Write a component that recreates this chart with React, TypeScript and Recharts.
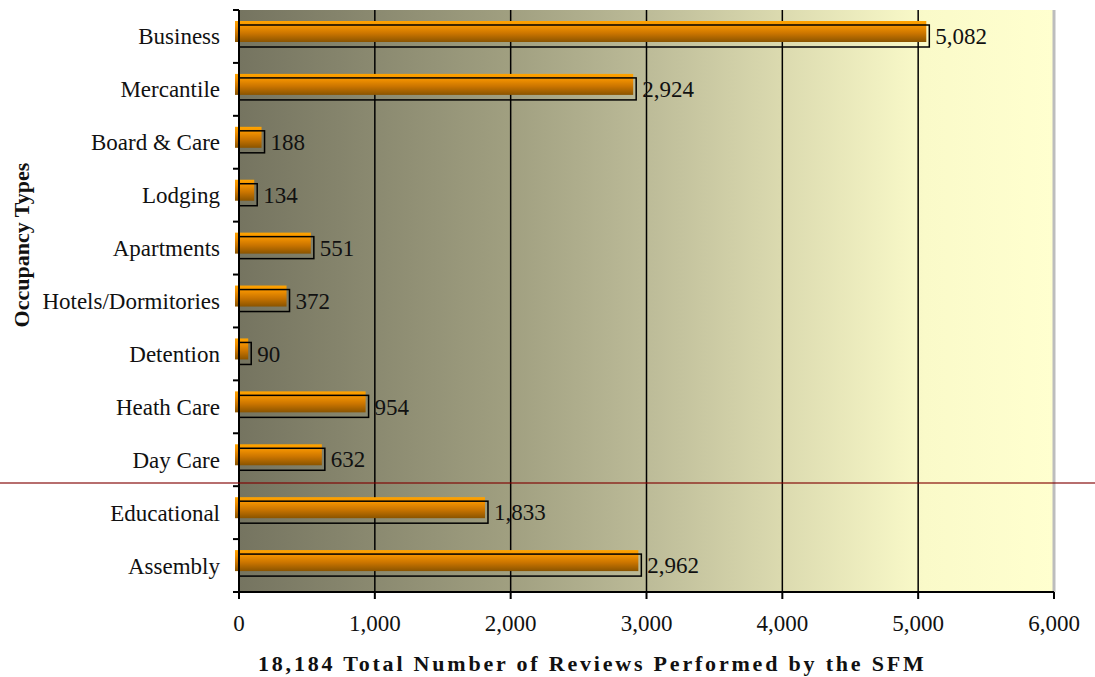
import React from "react";
import {
  Bar,
  BarChart,
  CartesianGrid,
  LabelList,
  ReferenceLine,
  XAxis,
  YAxis,
} from "recharts";

const categories = [
  "Business",
  "Mercantile",
  "Board & Care",
  "Lodging",
  "Apartments",
  "Hotels/Dormitories",
  "Detention",
  "Heath Care",
  "Day Care",
  "Educational",
  "Assembly",
];

const reviews = [5082, 2924, 188, 134, 551, 372, 90, 954, 632, 1833, 2962];

const xTicks = [0, 1000, 2000, 3000, 4000, 5000, 6000];

const data = categories.map((category, i) => ({ category, reviews: reviews[i] }));

const FONT = '"Liberation Serif", "Times New Roman", serif';
const WIDTH = 1095;
const HEIGHT = 677;
const AXIS_X = 239;
const PLOT_TOP = 10;
const PLOT_BOTTOM = 592;
const HALF_BAND = (PLOT_BOTTOM - PLOT_TOP) / categories.length / 2;

function CategoryTick(props: any) {
  const { x, y, payload, index } = props;
  const last = index === categories.length - 1;
  return (
    <g>
      <line x1={AXIS_X - 6} x2={AXIS_X} y1={y - HALF_BAND} y2={y - HALF_BAND} stroke="#000" strokeWidth={2} />
      {last && (
        <line x1={AXIS_X - 6} x2={AXIS_X} y1={y + HALF_BAND} y2={y + HALF_BAND} stroke="#000" strokeWidth={2} />
      )}
      <text x={x} y={y} dy={8} textAnchor="end" fill="#111" fontSize={23} fontFamily={FONT}>
        {payload.value}
      </text>
    </g>
  );
}

// orange bar with a black outline box offset down-right (Excel 3D look)
function BarShape(props: any) {
  const { x, y, width, height } = props;
  return (
    <g>
      <rect x={x - 4} y={y - 4} width={width + 1} height={21} fill="url(#barGrad)" />
      <rect x={x} y={y} width={width} height={height} fill="none" stroke="#000" strokeWidth={1.5} />
    </g>
  );
}

export default function App() {
  return (
    <div style={{ position: "relative", width: WIDTH, height: HEIGHT, background: "#fff" }}>
      <style>{`body{margin:0}`}</style>
      <BarChart
        width={WIDTH}
        height={HEIGHT}
        data={data}
        layout="vertical"
        margin={{ top: PLOT_TOP, right: 41, bottom: 0, left: 0 }}
      >
        <defs>
          <linearGradient id="bgGrad" x1="0" y1="0" x2="1" y2="0">
            <stop offset="0%" stopColor="#757460" />
            <stop offset="33%" stopColor="#a09f80" />
            <stop offset="50%" stopColor="#bcbb98" />
            <stop offset="67%" stopColor="#dcdbb0" />
            <stop offset="84%" stopColor="#fafac9" />
            <stop offset="100%" stopColor="#ffffcf" />
          </linearGradient>
          <linearGradient id="barGrad" x1="0" y1="0" x2="0" y2="1">
            <stop offset="0%" stopColor="#ffa400" />
            <stop offset="25%" stopColor="#f39200" />
            <stop offset="60%" stopColor="#c97400" />
            <stop offset="100%" stopColor="#8a5400" />
          </linearGradient>
        </defs>
        <CartesianGrid horizontal={false} stroke="#000" strokeWidth={1.5} fill="url(#bgGrad)" fillOpacity={1} />
        <ReferenceLine x={6000} stroke="#bdbdbd" strokeWidth={3} />
        <XAxis
          type="number"
          domain={[0, 6000]}
          ticks={xTicks}
          height={HEIGHT - PLOT_BOTTOM}
          axisLine={{ stroke: "#000", strokeWidth: 2 }}
          tickLine={{ stroke: "#000", strokeWidth: 2 }}
          tickSize={7}
          tickMargin={16}
          tickFormatter={(v: number) => v.toLocaleString("en-US")}
          tick={{ fill: "#111", fontSize: 23, fontFamily: FONT }}
          label={{
            content: () => (
              <text
                x={258}
                y={671}
                fill="#111"
                fontSize={22}
                fontWeight="bold"
                letterSpacing={2.8}
                fontFamily={FONT}
              >
                18,184 Total Number of Reviews Performed by the SFM
              </text>
            ),
          }}
        />
        <YAxis
          type="category"
          dataKey="category"
          width={AXIS_X}
          axisLine={{ stroke: "#000", strokeWidth: 2 }}
          tickLine={false}
          tickSize={6}
          tickMargin={13}
          tick={<CategoryTick />}
          interval={0}
          label={{
            content: () => (
              <text
                x={29}
                y={245}
                transform="rotate(-90, 29, 245)"
                textAnchor="middle"
                fill="#111"
                fontSize={22}
                fontWeight="bold"
                fontFamily={FONT}
              >
                Occupancy Types
              </text>
            ),
          }}
        />
        <Bar dataKey="reviews" barSize={22} shape={<BarShape />} isAnimationActive={false}>
          <LabelList
            dataKey="reviews"
            position="right"
            offset={6}
            formatter={(v: any) => Number(v).toLocaleString("en-US")}
            fill="#111"
            fontSize={23}
            fontFamily={FONT}
          />
        </Bar>
      </BarChart>
      <div
        style={{
          position: "absolute",
          left: 0,
          top: 482,
          width: WIDTH,
          height: 1.5,
          background: "rgba(128,0,0,0.57)",
          pointerEvents: "none",
        }}
      />
    </div>
  );
}
